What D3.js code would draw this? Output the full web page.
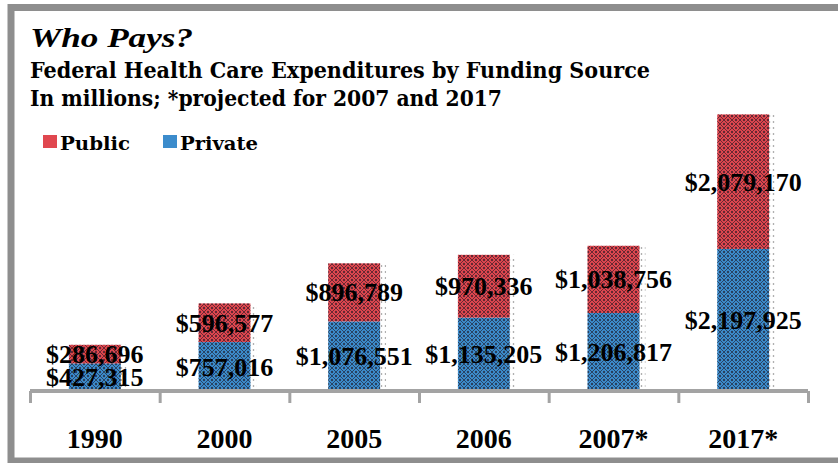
<!DOCTYPE html>
<html>
<head>
<meta charset="utf-8">
<script src="https://cdn.jsdelivr.net/npm/d3@7"></script>
<style>
  html, body { margin: 0; padding: 0; background: #fff; }
  svg { display: block; }
  text { font-family: "Liberation Serif", "Times New Roman", serif; font-weight: bold; fill: #000; }
  text.heavy { font-family: "DejaVu Serif Condensed", "DejaVu Serif", serif; font-weight: bold; }
</style>
</head>
<body>
<svg id="chart" width="838" height="463"></svg>
<script>
// ---- data ----
const categories = ["1990", "2000", "2005", "2006", "2007*", "2017*"];
const publicValues = [286696, 596577, 896789, 970336, 1038756, 2079170];
const privateValues = [427315, 757016, 1076551, 1135205, 1206817, 2197925];
const seriesNames = ["Public", "Private"];
const seriesColors = ["#e0474f", "#3c8ccc"];
const titleText = "Who Pays?";
const subtitleText = "Federal Health Care Expenditures by Funding Source";
const noteText = "In millions; *projected for 2007 and 2017";

const svg = d3.select("#chart");
const W = 838, H = 463;

// patterns
const defs = svg.append("defs");
const pat = defs.append("pattern")
  .attr("id", "hatch").attr("patternUnits", "userSpaceOnUse")
  .attr("width", 8).attr("height", 8);
pat.append("path").attr("d", "M0,4 L4,0 L8,4 L4,8 Z")
  .attr("fill", "none").attr("stroke", "#1b1420").attr("stroke-width", 1).attr("opacity", 0.6);
[[4, 4], [0, 0], [8, 8], [0, 8], [8, 0]].forEach(([cx, cy]) =>
  pat.append("circle").attr("cx", cx).attr("cy", cy).attr("r", 1.2).attr("fill", "#1b1420").attr("opacity", 0.65));
const fringe = defs.append("pattern")
  .attr("id", "fringe").attr("patternUnits", "userSpaceOnUse")
  .attr("width", 4).attr("height", 6);
fringe.append("circle").attr("cx", 1.5).attr("cy", 2).attr("r", 0.8).attr("fill", "#333").attr("opacity", 0.6);

// frame
svg.append("rect").attr("x", 0).attr("y", 0).attr("width", W).attr("height", H).attr("fill", "#fff");
svg.append("rect")
  .attr("x", 11).attr("y", 7.5).attr("width", 900).attr("height", 453.5)
  .attr("fill", "#fff").attr("stroke", "#8e8e8e").attr("stroke-width", 7);

// scales
const x = d3.scaleBand().domain(categories).range([30, 808]).paddingInner(0.6).paddingOuter(0.3);
const y = d3.scaleLinear().domain([0, 4500000]).range([391, 100]);

const rows = categories.map((c, i) => ({ cat: c, Public: publicValues[i], Private: privateValues[i] }));
const stack = d3.stack().keys(["Private", "Public"])(rows);
const colorOf = { Public: seriesColors[0], Private: seriesColors[1] };

// bars
const g = svg.append("g");
stack.forEach(layer => {
  const key = layer.key;
  g.selectAll(null).data(layer).join("rect")
    .attr("x", d => x(d.data.cat))
    .attr("y", d => y(d[1]))
    .attr("width", x.bandwidth())
    .attr("height", d => y(d[0]) - y(d[1]))
    .attr("fill", colorOf[key]);
  g.selectAll(null).data(layer).join("rect")
    .attr("x", d => x(d.data.cat))
    .attr("y", d => y(d[1]))
    .attr("width", x.bandwidth())
    .attr("height", d => y(d[0]) - y(d[1]))
    .attr("fill", "url(#hatch)");
  g.selectAll(null).data(layer).join("rect")
    .attr("x", d => x(d.data.cat) + x.bandwidth())
    .attr("y", d => y(d[1]))
    .attr("width", 6)
    .attr("height", d => y(d[0]) - y(d[1]))
    .attr("fill", "url(#fringe)");
});

// axis
const tickScale = d3.scaleLinear().domain([0, categories.length]).range([30, 808]);
const axisG = svg.append("g").attr("transform", "translate(0,391)")
  .call(d3.axisBottom(tickScale).tickValues(d3.range(categories.length + 1)).tickSize(12).tickFormat(""));
axisG.select(".domain").attr("stroke", "#a3a3a3").attr("stroke-width", 4).attr("d", "M30,0H808");
axisG.selectAll(".tick line").attr("stroke", "#a3a3a3").attr("stroke-width", 3);

// category labels
svg.append("g").selectAll("text").data(categories).join("text")
  .attr("x", d => x(d) + x.bandwidth() / 2)
  .attr("y", 448)
  .attr("text-anchor", "middle")
  .style("font-size", "28px")
  .text(d => d);

// value labels
const fmt = d3.format(",");
stack.forEach(layer => {
  svg.append("g").selectAll("text").data(layer).join("text")
    .attr("x", d => x(d.data.cat) + x.bandwidth() / 2)
    .attr("y", d => (y(d[0]) + y(d[1])) / 2 + 9)
    .attr("text-anchor", "middle")
    .style("font-size", "26px")
    .text(d => "$" + fmt(d.data[layer.key]));
});

// titles
svg.append("text").attr("x", 30).attr("y", 47)
  .style("font-size", "28px").style("font-style", "italic")
  .attr("textLength", 163).attr("lengthAdjust", "spacingAndGlyphs")
  .text(titleText);
svg.append("text").attr("class", "heavy").attr("x", 30).attr("y", 78)
  .style("font-size", "23px")
  .attr("textLength", 620).attr("lengthAdjust", "spacingAndGlyphs")
  .text(subtitleText);
svg.append("text").attr("class", "heavy").attr("x", 30).attr("y", 106)
  .style("font-size", "23px")
  .attr("textLength", 472).attr("lengthAdjust", "spacingAndGlyphs")
  .text(noteText);

// legend
const legendX = [43, 163];
const legendW = [70, 78];
seriesNames.forEach((name, i) => {
  svg.append("rect").attr("x", legendX[i]).attr("y", 135).attr("width", 14).attr("height", 13)
    .attr("fill", seriesColors[i]);
  svg.append("text").attr("class", "heavy").attr("x", legendX[i] + 17).attr("y", 150)
    .style("font-size", "19px")
    .attr("textLength", legendW[i]).attr("lengthAdjust", "spacingAndGlyphs")
    .text(name);
});
</script>
</body>
</html>
